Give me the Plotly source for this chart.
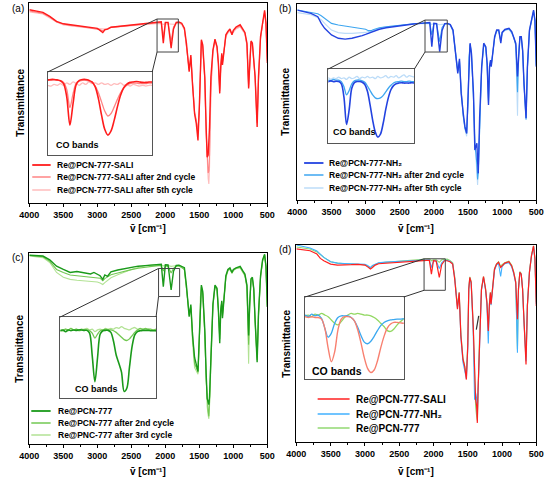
import plotly.graph_objects as go

W, H = 553, 484

# ---------------- data: wavenumber grid (cm-1) ----------------
WN = [4000, 3900, 3800, 3700, 3650, 3600, 3500, 3400, 3300, 3200,
      3100, 3050, 3000, 2960, 2920, 2890, 2850, 2800, 2700, 2600,
      2500, 2400, 2300, 2200, 2100, 2060, 2030, 2000, 1960, 1915,
      1880, 1840, 1800, 1760, 1720, 1690, 1650, 1625, 1600, 1570,
      1545, 1520, 1500, 1485, 1470, 1450, 1420, 1400, 1385, 1370,
      1360, 1350, 1330, 1300, 1270, 1240, 1220, 1200, 1185, 1170,
      1160, 1140, 1110, 1080, 1050, 1020, 1000, 960, 900, 860,
      830, 800, 775, 760, 740, 720, 700, 680, 660, 650,
      630, 600, 570, 540, 520, 500]

# panel (a)
A_SALI = [96.6, 96.0, 95.3, 93.3, 92.0, 90.8, 89.6, 89.1, 88.6, 88.3,
          87.8, 87.4, 87.3, 86.3, 85.2, 86.6, 86.9, 87.9, 88.3, 88.6,
          89.1, 89.4, 89.9, 90.3, 90.6, 90.6, 79.9, 90.3, 90.3, 77.4,
          87.0, 90.3, 90.5, 89.9, 87.4, 79.9, 65.7, 74.0, 59.0, 44.7,
          39.7, 31.3, 48.1, 71.5, 81.6, 79.1, 63.1, 38.0, 22.9, 24.0,
          30.0, 38.0, 63.1, 76.5, 81.9, 78.2, 69.8, 54.8, 68.2, 74.9,
          69.0, 76.5, 84.1, 85.8, 87.0, 84.1, 86.3, 88.0, 89.1, 86.9,
          85.3, 80.0, 57.3, 68.2, 81.0, 80.0, 73.2, 63.1, 46.4, 38.0,
          63.1, 83.2, 90.0, 96.3, 90.0, 70.0]
A_SALI_2 = [96.0, 95.5, 94.8, 93.0, 91.8, 90.5, 89.5, 88.8, 88.5, 88.0,
            87.6, 87.3, 87.0, 86.6, 86.2, 86.8, 87.0, 87.8, 88.2, 88.5,
            89.0, 89.3, 89.7, 90.0, 90.2, 90.3, 83.2, 90.0, 90.0, 80.7,
            88.0, 90.0, 90.2, 89.6, 87.0, 79.0, 66.5, 73.0, 58.0, 45.0,
            41.0, 36.0, 47.0, 72.0, 81.0, 78.5, 62.0, 36.0, 20.0, 15.0,
            16.0, 24.0, 58.0, 76.0, 81.5, 78.0, 70.0, 56.0, 68.0, 74.0,
            70.0, 76.0, 83.5, 85.5, 86.5, 84.5, 86.0, 87.5, 88.5, 86.5,
            85.0, 79.0, 58.0, 68.0, 80.5, 79.5, 73.0, 63.0, 47.0, 40.0,
            62.0, 82.5, 89.5, 95.5, 89.5, 71.0]
A_SALI_5 = [95.5, 95.0, 94.5, 92.5, 91.5, 90.5, 89.0, 88.5, 88.0, 87.8,
            87.5, 87.3, 87.2, 87.0, 86.8, 87.0, 87.2, 87.8, 88.0, 88.3,
            88.8, 89.0, 89.3, 89.6, 89.8, 89.6, 89.3, 89.6, 89.5, 89.2,
            89.4, 89.6, 89.8, 89.2, 86.5, 78.5, 67.0, 72.0, 57.0, 45.5,
            42.0, 37.0, 46.0, 72.5, 80.5, 78.0, 61.0, 34.0, 18.0, 12.0,
            9.5, 18.0, 55.0, 75.5, 81.0, 77.5, 70.5, 57.0, 67.5, 73.5,
            70.5, 75.5, 83.0, 85.0, 86.0, 84.5, 85.5, 87.0, 88.0, 86.0,
            84.5, 78.5, 59.0, 67.5, 80.0, 79.0, 72.5, 63.5, 48.0, 41.0,
            61.0, 82.0, 89.0, 95.0, 89.0, 72.0]

# panel (b)
B_NH2 = [96.9, 96.0, 95.2, 93.5, 90.1, 87.6, 84.2, 82.5, 82.1, 82.5,
         83.3, 83.9, 84.5, 85.0, 85.4, 85.9, 86.2, 87.1, 87.9, 88.4,
         88.9, 89.5, 89.8, 90.1, 90.5, 90.5, 78.2, 90.2, 90.0, 75.7,
         86.5, 90.0, 90.1, 89.5, 86.7, 78.0, 64.6, 72.0, 54.4, 44.2,
         37.4, 34.0, 51.0, 72.0, 80.0, 75.0, 54.4, 25.5, 28.0, 29.0,
         20.0, 13.6, 42.0, 68.0, 80.0, 78.2, 69.7, 48.5, 68.0, 71.4,
         68.0, 74.8, 83.3, 86.7, 86.7, 80.0, 85.5, 87.0, 87.6, 85.9,
         83.3, 79.9, 63.0, 74.8, 83.3, 83.3, 76.5, 59.5, 44.2, 41.7,
         68.0, 86.7, 91.8, 96.9, 91.8, 68.0]
B_NH2_2 = [96.9, 96.3, 95.8, 95.0, 94.0, 92.7, 90.1, 89.3, 88.8, 88.4,
           87.9, 87.5, 87.1, 86.4, 86.4, 86.9, 87.4, 87.9, 88.4, 88.8,
           89.3, 89.6, 89.9, 90.1, 90.4, 90.3, 84.2, 90.0, 89.9, 80.8,
           88.0, 89.8, 90.0, 89.4, 86.5, 77.5, 65.5, 71.0, 55.0, 43.0,
           36.5, 34.0, 50.0, 72.5, 79.5, 75.0, 52.0, 27.0, 24.0, 18.0,
           10.5, 14.0, 40.0, 67.5, 79.5, 77.8, 69.0, 49.5, 67.5, 71.0,
           68.5, 74.5, 83.0, 86.5, 86.5, 81.0, 85.5, 86.8, 87.3, 85.5,
           83.0, 79.0, 55.0, 73.5, 83.0, 83.0, 76.0, 59.0, 44.0, 41.0,
           67.5, 86.5, 91.5, 96.5, 91.5, 68.5]
B_NH2_5 = [95.6, 95.0, 94.5, 93.0, 92.0, 90.1, 86.7, 85.4, 85.0, 85.0,
           85.2, 85.4, 85.5, 85.9, 86.0, 86.5, 87.1, 87.6, 88.4, 88.8,
           89.2, 89.5, 89.8, 90.0, 90.2, 90.1, 89.6, 90.0, 89.8, 89.4,
           89.6, 89.9, 90.0, 89.2, 86.0, 77.0, 66.0, 70.5, 55.5, 42.5,
           36.0, 32.5, 49.0, 73.0, 79.0, 74.5, 51.0, 27.0, 22.0, 14.0,
           7.7, 14.0, 38.0, 67.0, 79.0, 77.5, 68.5, 50.5, 67.0, 70.5,
           69.0, 74.0, 82.5, 86.0, 86.0, 82.0, 85.0, 86.5, 87.0, 85.0,
           82.5, 78.5, 43.0, 72.5, 82.5, 82.5, 75.5, 58.5, 45.0, 42.0,
           67.0, 86.0, 91.0, 96.0, 91.0, 69.0]

# panel (c)
C_PCN = [98.8, 98.6, 98.4, 96.4, 94.8, 93.1, 91.4, 89.8, 90.3, 89.8,
         89.0, 89.8, 89.0, 88.1, 86.2, 88.5, 87.8, 90.1, 91.1, 91.8,
         92.4, 93.1, 93.4, 93.7, 94.1, 94.1, 82.4, 93.8, 93.7, 80.7,
         90.5, 93.5, 93.6, 93.0, 92.3, 83.0, 66.7, 73.0, 56.8, 45.3,
         42.0, 38.0, 56.8, 76.0, 83.2, 79.9, 60.1, 37.1, 23.9, 22.0,
         20.6, 25.0, 48.6, 73.3, 83.2, 81.5, 70.0, 52.7, 70.0, 75.0,
         65.9, 76.6, 88.1, 91.4, 92.2, 89.8, 91.4, 92.2, 93.0, 90.6,
         89.0, 83.2, 56.8, 73.3, 86.5, 87.3, 81.5, 65.0, 48.6, 42.8,
         68.4, 88.1, 96.4, 99.3, 93.1, 71.7]
C_PCN_2 = [98.8, 98.5, 98.0, 95.6, 93.6, 91.4, 89.8, 88.5, 88.1, 87.8,
           87.6, 87.4, 87.3, 86.8, 85.5, 86.6, 87.5, 88.6, 89.5, 90.6,
           91.3, 92.0, 92.6, 93.0, 93.4, 93.3, 90.5, 93.2, 93.0, 89.5,
           92.0, 93.0, 93.2, 92.5, 91.5, 82.0, 67.5, 72.0, 55.0, 42.0,
           40.0, 37.5, 55.0, 76.5, 82.5, 79.0, 58.0, 34.0, 21.0, 17.0,
           14.5, 22.0, 46.0, 72.5, 82.5, 81.0, 70.5, 55.0, 70.5, 74.5,
           67.0, 76.0, 87.5, 91.0, 91.8, 89.5, 91.0, 92.0, 92.6, 90.2,
           88.5, 82.5, 52.0, 72.0, 86.0, 86.8, 81.0, 64.5, 49.0, 44.0,
           67.5, 87.5, 96.0, 99.0, 92.6, 72.0]
C_PCN_3 = [98.5, 98.2, 97.6, 95.0, 92.5, 89.8, 87.3, 86.2, 85.7, 85.5,
           85.2, 85.0, 84.8, 84.3, 83.5, 84.5, 85.7, 87.0, 88.6, 90.1,
           91.4, 92.4, 93.3, 93.7, 94.0, 93.8, 93.3, 93.6, 93.4, 93.0,
           93.2, 93.4, 93.5, 92.8, 91.0, 81.0, 69.0, 71.0, 53.0, 40.0,
           38.5, 36.5, 54.0, 77.0, 82.0, 78.5, 57.0, 32.0, 19.5, 15.0,
           13.2, 20.0, 44.0, 72.0, 82.0, 80.5, 71.0, 57.0, 70.5, 74.0,
           68.0, 75.5, 87.0, 90.5, 91.5, 89.2, 90.8, 91.8, 92.2, 89.8,
           88.0, 81.5, 42.0, 71.0, 85.5, 86.5, 80.5, 64.0, 50.0, 45.0,
           67.0, 87.0, 95.5, 98.8, 92.2, 72.5]

# panel (d)
D_SALI = [98.0, 97.5, 97.1, 95.4, 93.2, 92.0, 90.3, 89.8, 89.8, 90.0,
          90.2, 90.0, 89.8, 88.9, 87.8, 88.6, 89.8, 90.5, 90.7, 90.8,
          91.0, 91.2, 91.5, 91.9, 92.2, 92.2, 85.2, 92.0, 91.8, 83.5,
          90.0, 92.0, 92.0, 91.5, 90.3, 82.7, 67.4, 75.9, 53.8, 41.9,
          38.5, 31.7, 48.7, 77.6, 83.5, 81.0, 58.9, 30.0, 21.6, 18.2,
          9.7, 26.5, 52.1, 77.6, 84.0, 77.6, 70.8, 56.4, 69.1, 75.9,
          70.0, 77.6, 87.7, 90.3, 91.2, 88.6, 89.5, 90.8, 91.5, 89.5,
          86.1, 81.0, 62.3, 77.6, 86.1, 85.2, 77.6, 60.6, 45.2, 39.4,
          69.1, 86.1, 94.6, 99.5, 92.9, 69.1]
D_NH2 = [100.0, 99.2, 98.5, 97.0, 95.5, 93.7, 91.5, 90.8, 90.6, 90.5,
         90.4, 90.3, 90.2, 89.6, 88.5, 89.6, 90.3, 91.0, 91.3, 91.5,
         91.7, 91.9, 92.1, 92.3, 92.5, 92.5, 88.5, 92.0, 92.0, 88.0,
         91.0, 92.2, 92.2, 91.8, 90.5, 83.0, 68.0, 75.0, 53.0, 40.5,
         36.5, 32.0, 47.0, 77.5, 83.0, 80.5, 56.0, 21.5, 25.0, 22.0,
         14.0, 26.0, 52.0, 77.0, 83.5, 77.0, 69.5, 50.0, 70.0, 75.0,
         69.5, 77.0, 87.0, 90.0, 90.5, 84.0, 89.0, 90.5, 91.0, 89.0,
         85.5, 80.5, 45.3, 77.0, 86.0, 85.0, 77.5, 61.0, 46.5, 41.0,
         69.5, 86.0, 94.5, 99.0, 93.0, 70.0]
D_PCN = [99.0, 98.5, 98.0, 96.5, 95.0, 93.7, 91.5, 90.8, 90.5, 90.4,
         90.3, 90.2, 90.0, 89.2, 88.5, 89.3, 90.0, 90.8, 91.2, 91.5,
         91.8, 92.1, 92.4, 92.8, 93.0, 93.0, 92.0, 92.5, 92.5, 91.2,
         92.5, 92.8, 92.8, 92.2, 91.0, 84.0, 69.0, 76.0, 55.0, 43.0,
         38.0, 34.0, 50.0, 78.0, 83.8, 81.5, 59.0, 27.0, 18.0, 13.0,
         11.0, 23.0, 51.0, 77.5, 84.0, 78.0, 71.0, 58.0, 70.0, 76.0,
         71.0, 78.0, 88.0, 90.5, 91.5, 89.0, 90.0, 91.0, 91.8, 89.8,
         86.5, 81.5, 47.0, 78.0, 86.5, 85.5, 78.0, 61.5, 48.0, 43.0,
         69.0, 86.5, 95.0, 99.5, 93.5, 71.0]

# ---------------- CO band insets ----------------
CO_WN = [2160, 2150, 2140, 2130, 2120, 2110, 2100, 2090, 2080, 2070,
         2060, 2050, 2040, 2030, 2020, 2010, 2000, 1990, 1980, 1970,
         1960, 1950, 1940, 1930, 1920, 1910, 1900, 1890, 1880, 1870,
         1860, 1850, 1840, 1830, 1820, 1810, 1800, 1790, 1780, 1770]

A_CO = [90, 90, 90, 90, 90, 90.5, 90.5, 91, 91, 90.5,
        89.5, 86, 70, 36, 62, 85, 90, 91, 91, 90,
        88, 82, 68, 48, 31, 24, 29, 42, 58, 72,
        81, 85.5, 87.5, 88, 88.5, 88, 87.5, 87.5, 88, 88]
A_CO_2 = [89.5, 89.5, 89.5, 89.5, 89.5, 90, 90, 90, 90.5, 90,
          89.5, 87.5, 79, 57, 74, 86.5, 89, 90, 90, 89,
          87, 83, 75, 64, 53, 47, 50, 58, 67, 75,
          80.5, 84, 86, 86.5, 86.5, 86, 86, 86, 86.5, 86.5]
A_CO_5 = [84, 85, 84, 85, 84, 85, 84, 83, 85, 84,
          86, 84, 87, 85, 88, 86, 84, 87, 85, 88,
          86, 87, 85, 87, 85, 86, 84, 86, 85, 87,
          84, 85, 83, 85, 84, 83, 84, 83, 84, 84]

B_CO = [83, 83, 83, 83, 83, 83.5, 83, 84, 83, 83.5,
        83, 80, 62, 25, 45, 74, 81.5, 83, 83, 82,
        79, 70, 52, 31, 15, 8, 12, 26, 45, 61,
        72, 77.5, 80, 81, 81.5, 81, 81, 81, 81.5, 81]
B_CO_2 = [85, 85, 85, 85, 85, 85, 85, 84, 86, 85,
          85, 83, 76, 65, 71, 80, 84, 85, 85, 84,
          82, 77, 71, 65, 61, 60, 61, 64, 69, 74,
          78, 81, 82.5, 83, 83.5, 83, 83, 83.5, 83, 83]
B_CO_5 = [88, 87, 89, 87, 88, 86, 88, 86, 88, 87,
          89, 87, 88, 86, 89, 87, 88, 90, 87, 89,
          88, 90, 88, 89, 87, 90, 88, 89, 91, 88,
          90, 89, 91, 88, 90, 92, 89, 91, 90, 89]

C_CO = [83, 84, 82, 84, 83, 84, 83.5, 84, 84, 83.5,
        83.5, 80, 52, 20, 50, 79, 83, 83.5, 83.5, 81,
        70, 53, 43, 32, 8, 12, 38, 64, 78, 82,
        83, 83.5, 83.5, 83.5, 83, 83, 83, 83, 83, 83]
C_CO_2 = [84, 83, 85, 84, 86, 84, 85, 84, 85, 84,
          84, 83, 80, 74, 79, 83, 84, 85, 84, 84,
          83, 81, 78, 75, 72, 71, 73, 77, 81, 84,
          86, 85, 86, 85, 85, 84, 85, 84, 84, 84]
C_CO_3 = [82, 84, 85, 83, 86, 84, 85, 83, 84, 85,
          86, 84, 85, 82, 84, 85, 84, 86, 85, 86,
          85, 87, 86, 88, 86, 85, 84, 86, 87, 85,
          84, 85, 84, 85, 84, 84, 83, 84, 84, 84]

D_CO_SALI = [75, 75, 75, 75, 75, 76, 75, 76, 75, 75,
             73, 62, 38, 21, 33, 60, 73, 76, 76, 75,
             71, 60, 44, 26, 13, 8, 11, 22, 38, 52,
             62, 67, 69, 69, 68.5, 68, 68, 68, 68, 68]
D_CO_NH2 = [77, 77, 77, 77, 77, 78, 76, 79, 77, 78,
            74, 62, 51, 56, 68, 75, 77, 77, 77, 75,
            71, 63, 53, 45, 43, 46, 52, 59, 65, 69,
            71, 72, 72.5, 73, 73, 73.5, 73.5, 74, 74, 74]
D_CO_PCN = [78, 76, 79, 77, 80, 77, 78, 76, 79, 78,
            80, 78, 76, 72, 68, 66, 70, 75, 78, 80,
            79, 80, 79, 78, 78, 77, 75, 72, 68, 64,
            59, 58, 61, 66, 70, 73, 74, 75, 75, 75]

for arr in [A_SALI, A_SALI_2, A_SALI_5, B_NH2, B_NH2_2, B_NH2_5, C_PCN, C_PCN_2,
            C_PCN_3, D_SALI, D_NH2, D_PCN]:
    assert len(arr) == len(WN), len(arr)
for arr in [A_CO, A_CO_2, A_CO_5, B_CO, B_CO_2, B_CO_5, C_CO, C_CO_2, C_CO_3,
            D_CO_SALI, D_CO_NH2, D_CO_PCN]:
    assert len(arr) == len(CO_WN), len(arr)

X_TICKS = [4000, 3500, 3000, 2500, 2000, 1500, 1000, 500]
X_MINOR = [3750, 3250, 2750, 2250, 1750, 1250, 750]

FONT = "Liberation Sans, Arial, sans-serif"
X_TITLE = "v\u0304 [cm\u207b\u00b9]"

# ---------------- panel configuration ----------------
PANELS = [
    dict(label="(a)", lab=(8, 9), main=(20, 266, 3, 203), inset=(39, 147, 72, 155),
         irange=[2100, 1770], sbox=(2122, 1809, 75.5, 92.0),
         series=[  # (main, inset, color, width, name)
             (A_SALI_5, A_CO_5, "#ffbcbc", 1.1, "Re@PCN-777-SALI after 5th cycle"),
             (A_SALI_2, A_CO_2, "#ff8484", 1.1, "Re@PCN-777-SALI after 2nd cycle"),
             (A_SALI, A_CO, "#ff1c1c", 1.4, "Re@PCN-777-SALI"),
         ],
         leg=(23, 42, 47, [165, 177, 190], 8.5), co=(45, 145, 9), yt=(10, 103), xt=(143, 229)),
    dict(label="(b)", lab=(284, 9), main=(297, 544, 4, 200), inset=(329, 418, 69, 143),
         irange=[2100, 1770], sbox=(2130, 1804, 75.5, 91.8),
         series=[
             (B_NH2_5, B_CO_5, "#bcdcf8", 1.1, "Re@PCN-777-NH\u2082 after 5th cycle"),
             (B_NH2_2, B_CO_2, "#3ea6f0", 1.1, "Re@PCN-777-NH\u2082 after 2nd cycle"),
             (B_NH2, B_CO, "#2343e0", 1.4, "Re@PCN-777-NH\u2082"),
         ],
         leg=(304, 324, 328, [163, 175, 188], 8.5), co=(332, 132, 9), yt=(285, 102), xt=(420, 229)),
    dict(label="(c)", lab=(8, 257), main=(20, 266, 253, 444), inset=(52, 151, 317, 398),
         irange=[2160, 1800], sbox=(2100, 1790, 77.2, 91.9),
         series=[
             (C_PCN_3, C_CO_3, "#b2e294", 1.1, "Re@PNC-777 after 3rd cycle"),
             (C_PCN_2, C_CO_2, "#72c852", 1.1, "Re@PCN-777 after 2nd cycle"),
             (C_PCN, C_CO, "#1a9a1a", 1.4, "Re@PCN-777"),
         ],
         leg=(22, 42, 48, [411, 423, 435], 8.5), co=(65, 389, 9), yt=(9, 349), xt=(143, 471)),
    dict(label="(d)", lab=(284, 249), main=(296, 544, 245, 442), inset=(305, 407, 297, 379),
         irange=[2110, 1810], sbox=(2137, 1827, 77.0, 93.0),
         series=[
             (D_PCN, D_CO_PCN, "#92d872", 1.1, "Re@PCN-777"),
             (D_NH2, D_CO_NH2, "#40b0ff", 1.1, "Re@PCN-777-NH\u2082"),
             (D_SALI, D_CO_SALI, "#ff2020", 1.2, "Re@PCN-777-SALI"),
         ],
         inset_colors=["#92d862", "#3aa8f0", "#f88070"],
         leg=(318, 351, 356, [399, 414, 428], 10), co=(310, 371, 10.5), yt=(285, 344), xt=(420, 471)),
]


def fx(p):
    return p / W


def fy(p):
    return 1 - p / H


fig = go.Figure()
layout = dict(width=W, height=H, margin=dict(l=0, r=0, t=0, b=0),
              plot_bgcolor="white", paper_bgcolor="white", showlegend=False,
              font=dict(family=FONT, color="black"))
shapes, annotations = [], []

for i, P in enumerate(PANELS):
    n_main = i + 1
    n_ins = i + 5
    L, R, T, B = P["main"]
    iL, iR, iT, iB = P["inset"]
    sx = "" if n_main == 1 else str(n_main)

    # main axes
    layout["xaxis" + sx] = dict(
        domain=[fx(L), fx(R)], range=[4000, 500], anchor="y" + sx,
        tickvals=X_TICKS, ticks="outside", ticklen=3, tickwidth=1, tickcolor="black",
        minor=dict(tickvals=X_MINOR, ticks="outside", ticklen=2, tickcolor="black", showgrid=False),
        showline=True, mirror=True, linecolor="black", linewidth=1.2,
        showgrid=False, zeroline=False,
        tickfont=dict(family=FONT, size=9, weight="bold", color="black"))
    layout["yaxis" + sx] = dict(
        domain=[fy(B), fy(T)], range=[0, 100], anchor="x" + sx,
        showticklabels=False, ticks="", showline=True, mirror=True,
        linecolor="black", linewidth=1.2, showgrid=False, zeroline=False)
    # inset axes
    layout["xaxis%d" % n_ins] = dict(
        domain=[fx(iL), fx(iR)], range=P["irange"], anchor="y%d" % n_ins,
        showticklabels=False, ticks="", showline=True, mirror=True,
        linecolor="#555555", linewidth=1.2, showgrid=False, zeroline=False)
    layout["yaxis%d" % n_ins] = dict(
        domain=[fy(iB), fy(iT)], range=[0, 100], anchor="x%d" % n_ins,
        showticklabels=False, ticks="", showline=True, mirror=True,
        linecolor="#555555", linewidth=1.2, showgrid=False, zeroline=False)

    icol = P.get("inset_colors")
    for k, (ys, cos, col, w, name) in enumerate(P["series"]):
        fig.add_trace(go.Scatter(x=WN, y=ys, mode="lines", xaxis="x" + sx, yaxis="y" + sx,
                                 line=dict(color=col, width=w), hoverinfo="skip"))
        c2 = icol[k] if icol else col
        fig.add_trace(go.Scatter(x=CO_WN, y=cos, mode="lines", xaxis="x%d" % n_ins,
                                 yaxis="y%d" % n_ins,
                                 line=dict(color=c2, width=w + 0.2, shape="spline", smoothing=0.9),
                                 hoverinfo="skip"))

    # small zoom box on main plot
    x0, x1, y0, y1 = P["sbox"]
    shapes.append(dict(type="rect", xref="x" + sx, yref="y" + sx, x0=x0, x1=x1, y0=y0, y1=y1,
                       line=dict(color="#444444", width=1)))

    # connecting lines (main data coords -> paper)
    def to_paper(wn, v):
        px = L + (4000 - wn) / 3500 * (R - L)
        py = B - v / 100 * (B - T)
        return fx(px), fy(py)

    tlx, tly = to_paper(x0, y1)
    blx, bly = to_paper(x0, y0)
    shapes.append(dict(type="line", xref="paper", yref="paper", x0=tlx, y0=tly,
                       x1=fx(iL), y1=fy(iT), line=dict(color="#333333", width=1)))
    shapes.append(dict(type="line", xref="paper", yref="paper", x0=blx, y0=bly,
                       x1=fx(iR), y1=fy(iT), line=dict(color="#333333", width=1)))

    # manual legend (top row first = main series)
    lx0, lx1, tx, rows, fs = P["leg"]
    for (ys, cos, col, w, name), ry in zip(reversed(P["series"]), rows):
        shapes.append(dict(type="line", xref="paper", yref="paper", x0=fx(lx0), x1=fx(lx1),
                           y0=fy(ry), y1=fy(ry), line=dict(color=col, width=w + 0.4)))
        annotations.append(dict(text=name, x=fx(tx), y=fy(ry), xref="paper", yref="paper",
                                xanchor="left", yanchor="middle", showarrow=False,
                                font=dict(family=FONT, size=fs, weight="bold", color="black")))

    cx, cy, cfs = P["co"]
    annotations.append(dict(text="CO bands", x=fx(cx), y=fy(cy), xref="paper", yref="paper",
                            xanchor="left", yanchor="middle", showarrow=False,
                            font=dict(family=FONT, size=cfs, weight="bold", color="black")))
    ytx, yty = P["yt"]
    annotations.append(dict(text="Transmittance", x=fx(ytx), y=fy(yty), xref="paper", yref="paper",
                            xanchor="center", yanchor="middle", textangle=-90, showarrow=False,
                            font=dict(family=FONT, size=10, weight="bold", color="black")))
    xtx, xty = P["xt"]
    annotations.append(dict(text=X_TITLE, x=fx(xtx), y=fy(xty), xref="paper",
                            yref="paper", xanchor="center", yanchor="middle", showarrow=False,
                            font=dict(family=FONT, size=10, weight="bold", color="black")))
    lbx, lby = P["lab"]
    annotations.append(dict(text=P["label"], x=fx(lbx), y=fy(lby), xref="paper", yref="paper",
                            xanchor="center", yanchor="middle", showarrow=False,
                            font=dict(family=FONT, size=10, color="black")))

# small dark stroke inside panel (d)
shapes.append(dict(type="line", xref="x4", yref="y4", x0=1375, y0=57, x1=1340, y1=64,
                   line=dict(color="#333333", width=1.2)))

layout["shapes"] = shapes
layout["annotations"] = annotations
fig.update_layout(**layout)
fig.write_html("out.html")
